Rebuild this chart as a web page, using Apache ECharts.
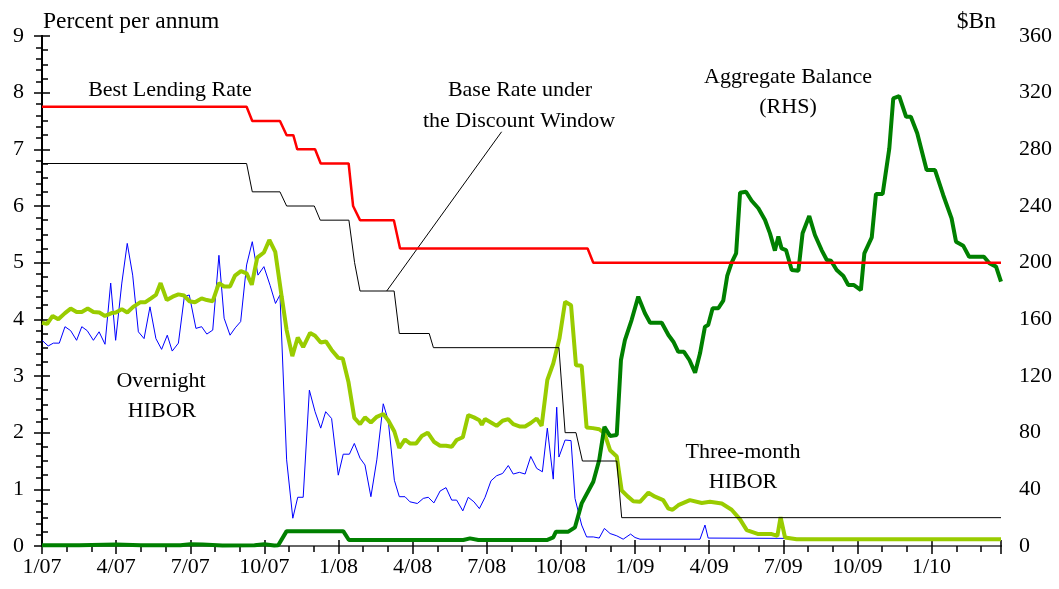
<!DOCTYPE html>
<html>
<head>
<meta charset="utf-8">
<script src="https://cdn.jsdelivr.net/npm/echarts@6/dist/echarts.min.js"></script>
<style>
  html, body { margin: 0; padding: 0; background: #fff; }
  #chart { width: 1059px; height: 589px; }
</style>
</head>
<body>
<div id="chart"></div>
<script>
// x values are months since Jan 2007
const blrMonth = [0, 8.28, 8.51, 9.63, 9.90, 10.17, 10.33, 11.05, 11.28, 12.41, 12.59, 12.87, 14.24, 14.49, 22.08, 22.31, 38.81]
const blrRate = [7.75, 7.75, 7.5, 7.5, 7.25, 7.25, 7.0, 7.0, 6.75, 6.75, 6.0, 5.75, 5.75, 5.25, 5.25, 5.0, 5.0]

const baseMonth = [0, 8.28, 8.51, 9.63, 9.90, 11.02, 11.26, 12.42, 12.65, 12.87, 14.25, 14.46, 15.67, 15.84, 20.92, 21.17, 21.61, 21.87, 23.26, 23.46, 38.81]
const baseRate = [6.75, 6.75, 6.25, 6.25, 6.0, 6.0, 5.75, 5.75, 5.0, 4.5, 4.5, 3.75, 3.75, 3.5, 3.5, 2.0, 2.0, 1.5, 1.5, 0.5, 0.5]

const onMonth = [0, 0.25, 0.46, 0.70, 0.93, 1.16, 1.40, 1.61, 1.83, 2.08,
  2.31, 2.55, 2.78, 2.98, 3.23, 3.45, 3.67, 3.90, 4.13, 4.37,
  4.61, 4.84, 5.07, 5.27, 5.52, 5.76, 5.96, 6.23, 6.46, 6.67,
  6.91, 7.16, 7.37, 7.61, 7.82, 8.04, 8.28, 8.51, 8.74, 8.98,
  9.23, 9.45, 9.63, 9.90, 10.15, 10.35, 10.57, 10.82, 11.05, 11.28,
  11.48, 11.72, 11.99, 12.19, 12.44, 12.64, 12.87, 13.07, 13.31, 13.55,
  13.81, 14.01, 14.26, 14.46, 14.69, 14.89, 15.19, 15.43, 15.63, 15.86,
  16.11, 16.35, 16.58, 16.78, 17.03, 17.25, 17.48, 17.70, 17.93, 18.17,
  18.40, 18.64, 18.87, 19.07, 19.32, 19.55, 19.78, 20.02, 20.25, 20.45,
  20.69, 20.83, 20.92, 21.17, 21.41, 21.57, 21.84, 22.04, 22.31, 22.55,
  22.76, 22.99, 23.26, 23.52, 23.82, 24.00, 24.20, 26.63, 26.83, 26.96,
  38.81]
const onRate = [3.63, 3.53, 3.58, 3.58, 3.87, 3.80, 3.63, 3.87, 3.80, 3.63,
  3.78, 3.56, 4.64, 3.63, 4.64, 5.34, 4.78, 3.78, 3.66, 4.22,
  3.66, 3.47, 3.72, 3.44, 3.58, 4.40, 4.43, 3.84, 3.87, 3.74,
  3.81, 5.13, 4.02, 3.72, 3.85, 3.96, 4.96, 5.37, 4.78, 4.93,
  4.60, 4.28, 4.43, 1.52, 0.49, 0.86, 0.86, 2.75, 2.37, 2.08,
  2.37, 2.25, 1.25, 1.62, 1.62, 1.81, 1.55, 1.43, 0.87, 1.52,
  2.51, 2.22, 1.16, 0.87, 0.87, 0.78, 0.75, 0.84, 0.86, 0.76,
  0.97, 1.03, 0.81, 0.81, 0.62, 0.86, 0.78, 0.66, 0.86, 1.15,
  1.24, 1.28, 1.42, 1.27, 1.30, 1.27, 1.58, 1.37, 1.31, 2.08,
  1.18, 2.45, 1.57, 1.87, 1.86, 0.84, 0.37, 0.16, 0.16, 0.14,
  0.31, 0.22, 0.18, 0.12, 0.21, 0.15, 0.12, 0.12, 0.37, 0.14,
  0.12]

const m3Month = [0, 0.21, 0.43, 0.66, 0.93, 1.16, 1.40, 1.61, 1.85, 2.08,
  2.32, 2.55, 2.82, 2.99, 3.23, 3.45, 3.69, 3.97, 4.17, 4.41,
  4.61, 4.80, 5.05, 5.29, 5.52, 5.75, 5.96, 6.19, 6.46, 6.67,
  6.91, 7.16, 7.37, 7.61, 7.81, 8.05, 8.28, 8.49, 8.71, 8.98,
  9.20, 9.44, 9.70, 9.90, 10.13, 10.35, 10.57, 10.85, 11.05, 11.28,
  11.49, 11.72, 11.99, 12.17, 12.40, 12.64, 12.87, 13.07, 13.31, 13.55,
  13.81, 14.01, 14.26, 14.46, 14.69, 14.89, 15.14, 15.37, 15.61, 15.86,
  16.11, 16.35, 16.58, 16.78, 17.03, 17.25, 17.48, 17.70, 17.80, 17.93,
  18.17, 18.40, 18.64, 18.87, 19.07, 19.32, 19.55, 19.78, 20.02, 20.22,
  20.45, 20.69, 20.94, 21.17, 21.41, 21.61, 21.84, 22.04, 22.29, 22.55,
  22.76, 22.99, 23.26, 23.46, 23.69, 23.93, 24.20, 24.54, 24.81, 25.14,
  25.35, 25.52, 25.75, 26.22, 26.70, 27.03, 27.51, 27.91, 28.25, 28.52,
  28.99, 29.53, 29.76, 29.89, 30.07, 30.54, 38.81]
const m3Rate = [3.94, 3.92, 4.06, 4.00, 4.11, 4.19, 4.13, 4.13, 4.19, 4.13,
  4.12, 4.06, 4.11, 4.12, 4.18, 4.12, 4.22, 4.30, 4.30, 4.37,
  4.43, 4.64, 4.34, 4.40, 4.44, 4.42, 4.32, 4.30, 4.37, 4.34,
  4.32, 4.64, 4.58, 4.58, 4.77, 4.85, 4.81, 4.61, 5.09, 5.18,
  5.40, 5.19, 4.40, 3.81, 3.35, 3.68, 3.51, 3.76, 3.71, 3.59,
  3.61, 3.46, 3.32, 3.31, 2.90, 2.26, 2.15, 2.27, 2.18, 2.28,
  2.33, 2.22, 2.02, 1.73, 1.88, 1.81, 1.81, 1.94, 2.00, 1.84,
  1.77, 1.77, 1.75, 1.87, 1.92, 2.31, 2.27, 2.22, 2.14, 2.24,
  2.18, 2.12, 2.21, 2.24, 2.15, 2.11, 2.11, 2.17, 2.25, 2.12,
  2.93, 3.22, 3.66, 4.31, 4.25, 3.19, 3.18, 2.09, 2.08, 2.06,
  1.99, 1.69, 1.58, 0.98, 0.88, 0.79, 0.78, 0.94, 0.87, 0.81,
  0.66, 0.64, 0.72, 0.81, 0.76, 0.78, 0.75, 0.64, 0.47, 0.28,
  0.21, 0.21, 0.18, 0.51, 0.15, 0.12, 0.12]

// Aggregate Balance, $Bn (RHS)
const abMonth = [0, 1.0, 1.5, 3.0, 4.0, 5.6, 6.0, 6.5, 7.3, 8.6,
  9.0, 9.4, 9.56, 9.90, 12.19, 12.42, 17.05, 17.32, 17.66, 20.43,
  20.69, 20.80, 21.30, 21.57, 21.84, 22.31, 22.55, 22.76, 22.99, 23.26,
  23.43, 23.59, 23.86, 24.13, 24.40, 24.61, 25.08, 25.35, 25.55, 25.75,
  25.98, 26.20, 26.43, 26.63, 26.83, 26.96, 27.14, 27.37, 27.57, 27.73,
  27.91, 28.09, 28.25, 28.49, 28.72, 28.99, 29.26, 29.46, 29.66, 29.80,
  29.93, 30.11, 30.34, 30.61, 30.78, 31.05, 31.28, 31.55, 31.76, 31.93,
  32.16, 32.43, 32.63, 32.86, 33.14, 33.28, 33.58, 33.75, 34.02, 34.29,
  34.45, 34.69, 34.97, 35.16, 35.42, 35.80, 36.14, 36.47, 36.81, 36.99,
  37.28, 37.52, 38.12, 38.34, 38.61, 38.81]
const abBal = [0.5, 0.6, 0.5, 1.0, 0.5, 0.5, 1.2, 1.0, 0.4, 0.5,
  1.2, 0.4, 0.5, 10.5, 10.5, 4.2, 4.2, 5.4, 4.2, 4.2,
  6.1, 10.1, 10.1, 13.2, 30.1, 45.4, 60.7, 84.2, 77.6, 78.4,
  131.3, 145.4, 159.5, 176, 164.3, 157.6, 157.6, 148.9, 144.2, 137.1,
  137.1, 131.3, 122.3, 136, 154.8, 156, 167.8, 167.8, 173.2, 190.6,
  200, 206.6, 249.4, 250.1, 243.7, 238.4, 230.1, 220.7, 208.5, 218.4,
  210.1, 208.9, 194.8, 194.3, 220.7, 232.9, 219.5, 208.9, 201.9, 201.4,
  194.8, 190.6, 184.2, 184.2, 180.7, 206.6, 217.9, 248.5, 248.5, 280.7,
  316, 317.6, 303, 303, 291.3, 265.4, 265.4, 247.8, 231.3, 214.8,
  212, 204.2, 204.2, 199.6, 197.2, 186.6]

const lastMonth = 38.81
const FONT = '"Liberation Serif", "Times New Roman", serif'

function pairs(xs, ys) {
  return xs.map((x, i) => [x, ys[i]])
}

function monthLabel(v) {
  if (Math.abs(v - Math.round(v)) > 0.001 || Math.round(v) % 3 !== 0) return ''
  const m = Math.round(v)
  return (m % 12 + 1) + '/' + String(7 + Math.floor(m / 12)).padStart(2, '0')
}

const chart = echarts.init(document.getElementById('chart'), null, { renderer: 'canvas' })

const text = (t, x, y, align, size) => ({
  type: 'text', x, y,
  style: { text: t, font: (size || 22) + 'px ' + FONT, fill: '#000', align: align || 'center', verticalAlign: 'middle' }
})

chart.setOption({
  animation: false,
  backgroundColor: '#fff',
  textStyle: { fontFamily: FONT },
  grid: { left: 42, right: 58, top: 36, bottom: 43 },
  xAxis: [{
    type: 'value', min: 0, max: lastMonth, interval: 3, position: 'bottom',
    axisLine: { lineStyle: { color: '#000', width: 2 } },
    axisTick: { length: 8, lineStyle: { color: '#000', width: 1.5 } },
    minorTick: { show: true, splitNumber: 3, length: 6, lineStyle: { color: '#000', width: 1.5 } },
    axisLabel: { formatter: monthLabel, fontSize: 22, color: '#000', fontFamily: FONT, margin: 10 },
    splitLine: { show: false }
  }, {
    type: 'value', min: 0, max: lastMonth, position: 'top',
    axisLine: { lineStyle: { color: '#666', width: 2 } },
    axisTick: { show: false }, axisLabel: { show: false }, splitLine: { show: false }
  }, {
    // the quarter ticks also stand up inside the plot
    type: 'value', min: 0, max: lastMonth, interval: 3, position: 'bottom', offset: 0,
    axisLine: { show: false },
    axisTick: { inside: true, length: 6, lineStyle: { color: '#000', width: 1.5 } },
    axisLabel: { show: false }, splitLine: { show: false }
  }],
  yAxis: [{
    type: 'value', min: 0, max: 9, interval: 1, position: 'left',
    axisLine: { show: true, lineStyle: { color: '#000', width: 2 } },
    axisTick: { show: true, length: 8, lineStyle: { color: '#000', width: 1.5 } },
    minorTick: { show: true, splitNumber: 5, length: 6, lineStyle: { color: '#000', width: 1.5 } },
    axisLabel: { fontSize: 22, color: '#000', fontFamily: FONT, margin: 18 },
    splitLine: { show: false }
  }, {
    type: 'value', min: 0, max: 360, interval: 40, position: 'right',
    axisLine: { show: true, lineStyle: { color: '#000', width: 2 } },
    axisTick: { show: true, length: 8, lineStyle: { color: '#000', width: 1.5 } },
    minorTick: { show: true, splitNumber: 4, length: 6, lineStyle: { color: '#000', width: 1.5 } },
    axisLabel: { fontSize: 22, color: '#000', fontFamily: FONT, margin: 18 },
    splitLine: { show: false }
  }],
  graphic: [
    text('Percent per annum', 43, 22, 'left', 23.5),
    text('$Bn', 996, 22, 'right', 23.5),
    text('Best Lending Rate', 170, 90),
    text('Base Rate under', 520, 90),
    text('the Discount Window', 519, 121),
    text('Aggregate Balance', 788, 77),
    text('(RHS)', 788, 107),
    text('Overnight', 161, 381),
    text('HIBOR', 162, 411),
    text('Three-month', 743, 452),
    text('HIBOR', 743, 482)
  ],
  series: [{
    name: 'Overnight HIBOR', type: 'line', yAxisIndex: 0, data: pairs(onMonth, onRate),
    showSymbol: false, lineStyle: { color: '#0000FF', width: 1 }, z: 2
  }, {
    name: 'Three-month HIBOR', type: 'line', yAxisIndex: 0, data: pairs(m3Month, m3Rate),
    showSymbol: false, lineStyle: { color: '#99CC00', width: 4 }, z: 3
  }, {
    name: 'Aggregate Balance', type: 'line', yAxisIndex: 1, data: pairs(abMonth, abBal),
    showSymbol: false, lineStyle: { color: '#008000', width: 4 }, z: 4
  }, {
    name: 'Base Rate', type: 'line', yAxisIndex: 0, data: pairs(baseMonth, baseRate),
    showSymbol: false, lineStyle: { color: '#000', width: 1 }, z: 5,
    markLine: {
      silent: true, symbol: 'none', animation: false,
      lineStyle: { color: '#000', width: 1, type: 'solid' },
      label: { show: false },
      data: [[{ coord: [13.95, 4.5] }, { coord: [18.6, 7.31] }]]
    }
  }, {
    name: 'Best Lending Rate', type: 'line', yAxisIndex: 0, data: pairs(blrMonth, blrRate),
    showSymbol: false, lineStyle: { color: '#FF0000', width: 2.5 }, z: 6
  }]
})
</script>
</body>
</html>
